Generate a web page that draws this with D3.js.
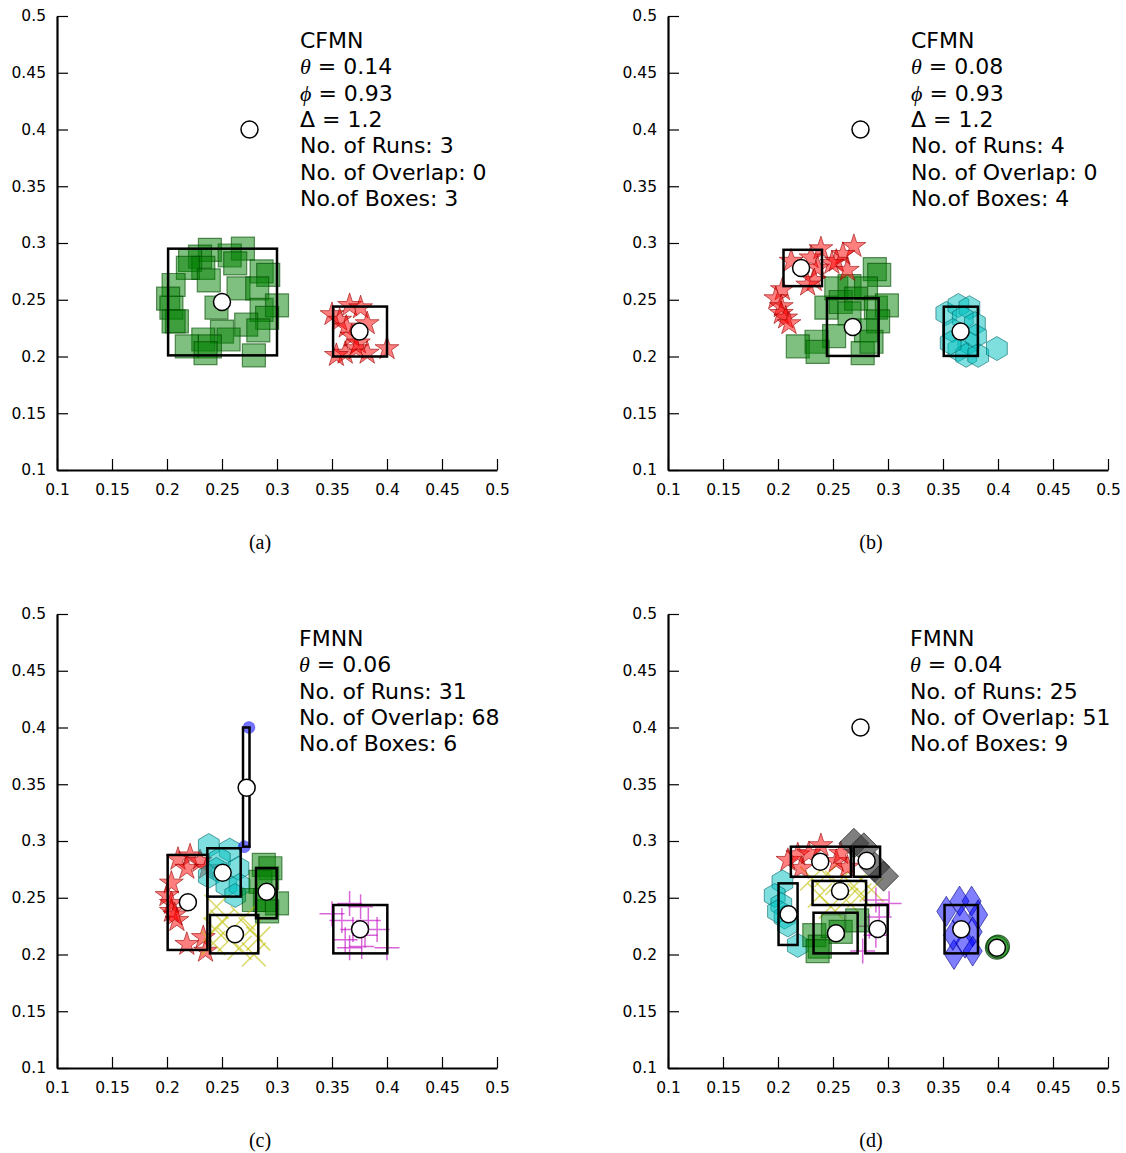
<!DOCTYPE html>
<html>
<head>
<meta charset="utf-8">
<script src="https://cdn.jsdelivr.net/npm/d3@7"></script>
<style>
  body { margin: 0; background: #fff; }
  svg { display: block; }
  .tick text { font-family: "DejaVu Sans", sans-serif; font-size: 15.5px; fill: #000; }
</style>
</head>
<body>
<svg id="fig" width="1126" height="1153"></svg>
<script>
// ---------- axis ticks ----------
const tickValues = [0.1, 0.15, 0.2, 0.25, 0.3, 0.35, 0.4, 0.45, 0.5];
const tickLabels = ["0.1", "0.15", "0.2", "0.25", "0.3", "0.35", "0.4", "0.45", "0.5"];

// ---------- panel (a): CFMN, theta = 0.14 ----------
const aSquares = [
  [0.239,0.294],[0.269,0.295],[0.257,0.289],[0.230,0.288],[0.221,0.285],[0.233,0.278],
  [0.219,0.278],[0.262,0.282],[0.286,0.275],[0.292,0.272],[0.238,0.267],[0.265,0.260],
  [0.282,0.260],[0.206,0.263],[0.201,0.251],[0.204,0.243],[0.209,0.231],[0.206,0.231],
  [0.245,0.243],[0.286,0.241],[0.300,0.245],[0.291,0.234],[0.272,0.228],[0.283,0.223],
  [0.250,0.222],[0.256,0.215],[0.233,0.215],[0.239,0.209],[0.218,0.209],[0.279,0.201],
  [0.235,0.203]
];
const aStars = [
  [0.350,0.237],[0.366,0.245],[0.376,0.243],[0.357,0.232],[0.363,0.226],[0.382,0.229],
  [0.368,0.218],[0.374,0.212],[0.362,0.203],[0.372,0.207],[0.382,0.203],[0.400,0.207],
  [0.354,0.201]
];
const aBoxes = [[0.201,0.300,0.201,0.295],[0.351,0.400,0.200,0.244]];
const aCentres = [[0.250,0.248],[0.375,0.222],[0.275,0.400]];

// ---------- panel (b): CFMN, theta = 0.08 ----------
const bStars = [
  [0.239,0.295],[0.269,0.297],[0.259,0.290],[0.253,0.284],[0.263,0.276],[0.249,0.282],
  [0.212,0.284],[0.230,0.287],[0.236,0.278],[0.233,0.267],[0.227,0.263],[0.204,0.259],
  [0.198,0.251],[0.203,0.244],[0.203,0.238],[0.207,0.234],[0.210,0.229]
];
const bSquares = [
  [0.288,0.277],[0.292,0.272],[0.253,0.260],[0.265,0.262],[0.280,0.260],[0.244,0.243],
  [0.257,0.248],[0.271,0.251],[0.289,0.243],[0.299,0.245],[0.291,0.231],[0.280,0.223],
  [0.251,0.218],[0.235,0.213],[0.218,0.209],[0.236,0.204],[0.277,0.203],[0.265,0.238],
  [0.285,0.213]
];
const bHexagons = [
  [0.353,0.238],[0.364,0.245],[0.374,0.243],[0.368,0.234],[0.379,0.229],[0.359,0.223],
  [0.380,0.218],[0.373,0.212],[0.364,0.206],[0.371,0.201],[0.382,0.201],[0.399,0.207],
  [0.357,0.212]
];
const bBoxes = [[0.205,0.240,0.262,0.294],[0.2445,0.2915,0.2005,0.2513],[0.3507,0.3817,0.2005,0.2439]];
const bCentres = [[0.221,0.278],[0.268,0.226],[0.366,0.222],[0.275,0.400]];

// ---------- panel (c): FMNN, theta = 0.06 ----------
const cStars = [
  [0.210,0.284],[0.221,0.287],[0.230,0.282],[0.218,0.276],[0.236,0.276],[0.204,0.263],
  [0.200,0.252],[0.204,0.245],[0.204,0.238],[0.209,0.230],[0.207,0.235],[0.218,0.209],
  [0.233,0.215],[0.235,0.203]
];
const cHexagons = [
  [0.238,0.296],[0.257,0.292],[0.248,0.284],[0.265,0.276],[0.238,0.269],[0.254,0.261],
  [0.266,0.261],[0.262,0.252],[0.245,0.275]
];
const cSquares = [
  [0.288,0.279],[0.294,0.276],[0.285,0.264],[0.291,0.267],[0.300,0.245],[0.289,0.248],
  [0.291,0.238],[0.279,0.248]
];
const cCrosses = [
  [0.245,0.242],[0.250,0.229],[0.269,0.232],[0.276,0.222],[0.283,0.214],[0.257,0.213],
  [0.266,0.206],[0.279,0.200],[0.242,0.210],[0.244,0.222]
];
const cPluses = [
  [0.350,0.236],[0.366,0.245],[0.376,0.242],[0.383,0.230],[0.369,0.222],[0.380,0.217],
  [0.362,0.213],[0.366,0.206],[0.377,0.207],[0.400,0.206],[0.391,0.222],[0.359,0.230]
];
const cDots = [[0.2745,0.400],[0.2703,0.295]];
const cBoxes = [
  [0.2691,0.2750,0.295,0.400],[0.2006,0.2367,0.204,0.2877],[0.2367,0.2670,0.251,0.2936],
  [0.2809,0.2997,0.2319,0.2760],[0.2391,0.2830,0.201,0.2348],[0.3512,0.4003,0.201,0.2436]
];
const cCentres = [[0.2724,0.347],[0.219,0.246],[0.2506,0.2721],[0.2906,0.2553],[0.2618,0.2178],[0.3755,0.2222]];

// ---------- panel (d): FMNN, theta = 0.04 ----------
const dStars = [
  [0.209,0.283],[0.218,0.288],[0.221,0.276],[0.228,0.289],[0.239,0.296],[0.253,0.282],
  [0.257,0.289],[0.263,0.277]
];
const dDiamonds = [[0.269,0.298],[0.278,0.294],[0.288,0.277],[0.296,0.269]];
const dHexagons = [
  [0.204,0.264],[0.197,0.252],[0.203,0.244],[0.206,0.233],[0.209,0.226],[0.218,0.208],
  [0.200,0.238]
];
const dCrosses = [
  [0.231,0.267],[0.244,0.270],[0.238,0.252],[0.254,0.263],[0.269,0.260],[0.274,0.252],
  [0.285,0.257],[0.248,0.242],[0.262,0.248]
];
const dPluses = [[0.289,0.248],[0.301,0.245],[0.292,0.233],[0.283,0.225],[0.289,0.217],[0.277,0.203]];
const dSquares = [[0.233,0.217],[0.238,0.207],[0.250,0.225],[0.257,0.220],[0.272,0.230],[0.236,0.203]];
const dThinDiamonds = [
  [0.353,0.238],[0.365,0.247],[0.376,0.247],[0.382,0.235],[0.367,0.230],[0.377,0.220],
  [0.370,0.210],[0.360,0.200],[0.377,0.203],[0.359,0.217]
];
const dCircles = [[0.399,0.206],[0.400,0.207]];
const dBoxes = [
  [0.2117,0.2663,0.2685,0.295],[0.2688,0.2928,0.2685,0.295],[0.2314,0.2801,0.2436,0.2648],
  [0.2005,0.2178,0.2084,0.2627],[0.2323,0.2724,0.201,0.2368],[0.2794,0.2997,0.201,0.2436],
  [0.3514,0.3818,0.201,0.2436]
];
const dCentres = [
  [0.2384,0.2818],[0.2806,0.2826],[0.2564,0.256],[0.2096,0.2354],[0.2527,0.2187],
  [0.2906,0.2225],[0.3666,0.2222],[0.399,0.206],[0.275,0.400]
];

// ---------- annotation text ----------
const aNotes = [["", "CFMN"], ["θ", " = 0.14"], ["ϕ", " = 0.93"], ["", "Δ = 1.2"], ["", "No. of Runs: 3"], ["", "No. of Overlap: 0"], ["", "No.of Boxes: 3"]];
const bNotes = [["", "CFMN"], ["θ", " = 0.08"], ["ϕ", " = 0.93"], ["", "Δ = 1.2"], ["", "No. of Runs: 4"], ["", "No. of Overlap: 0"], ["", "No.of Boxes: 4"]];
const cNotes = [["", "FMNN"], ["θ", " = 0.06"], ["", "No. of Runs: 31"], ["", "No. of Overlap: 68"], ["", "No.of Boxes: 6"]];
const dNotes = [["", "FMNN"], ["θ", " = 0.04"], ["", "No. of Runs: 25"], ["", "No. of Overlap: 51"], ["", "No.of Boxes: 9"]];

// ---------- marker shapes ----------
function starPath(r) {
  const ri = r * 0.382, p = [];
  for (let i = 0; i < 10; i++) {
    const a = -Math.PI / 2 + i * Math.PI / 5, rr = i % 2 ? ri : r;
    p.push([rr * Math.cos(a), rr * Math.sin(a)]);
  }
  return "M" + p.map(q => q.join(",")).join("L") + "Z";
}
function hexPath(r) {
  const p = [];
  for (let i = 0; i < 6; i++) {
    const a = -Math.PI / 2 + i * Math.PI / 3;
    p.push([r * Math.cos(a), r * Math.sin(a)]);
  }
  return "M" + p.map(q => q.join(",")).join("L") + "Z";
}
const squarePath = s => `M${-s/2},${-s/2}H${s/2}V${s/2}H${-s/2}Z`;
const diamondPath = (w, h) => `M0,${-h/2}L${w/2},0L0,${h/2}L${-w/2},0Z`;
const crossPath = s => `M${-s},${-s}L${s},${s}M${-s},${s}L${s},${-s}`;
const plusPath = s => `M${-s},0H${s}M0,${-s}V${s}`;
const circlePath = r => `M${r},0A${r},${r} 0 1,1 ${-r},0A${r},${r} 0 1,1 ${r},0Z`;

const styles = {
  square:   { d: squarePath(23), fill: "#008000", fo: 0.5, stroke: "#004d00", so: 0.6, sw: 1.2 },
  star:     { d: starPath(12.5), fill: "#ff0000", fo: 0.5, stroke: "#990000", so: 0.6, sw: 1 },
  hexagon:  { d: hexPath(12), fill: "#00bfbf", fo: 0.5, stroke: "#006666", so: 0.6, sw: 1 },
  diamond:  { d: diamondPath(30, 30), fill: "#3a3a3a", fo: 0.65, stroke: "#111", so: 0.6, sw: 1 },
  thin:     { d: diamondPath(19, 30), fill: "#0000ff", fo: 0.5, stroke: "#000080", so: 0.6, sw: 1 },
  cross:    { d: crossPath(12), fill: "none", fo: 0, stroke: "#bfbf00", so: 0.6, sw: 1.5 },
  plus:     { d: plusPath(12.5), fill: "none", fo: 0, stroke: "#bf00bf", so: 0.6, sw: 1.5 },
  gcircle:  { d: circlePath(11.5), fill: "#008000", fo: 0.5, stroke: "#003300", so: 0.7, sw: 1.2 },
  dot:      { d: circlePath(6), fill: "#0000ff", fo: 0.55, stroke: "#0000ff", so: 0.3, sw: 1 }
};

const panels = [
  { left: 57,  top: 16,  caption: "(a)", notes: aNotes, noteX: 300,
    series: [["square", aSquares], ["star", aStars]], boxes: aBoxes, centres: aCentres },
  { left: 668, top: 16,  caption: "(b)", notes: bNotes, noteX: 911,
    series: [["square", bSquares], ["star", bStars], ["hexagon", bHexagons]], boxes: bBoxes, centres: bCentres },
  { left: 57,  top: 614, caption: "(c)", notes: cNotes, noteX: 299,
    series: [["star", cStars], ["hexagon", cHexagons], ["square", cSquares], ["cross", cCrosses], ["plus", cPluses], ["dot", cDots]],
    boxes: cBoxes, centres: cCentres },
  { left: 668, top: 614, caption: "(d)", notes: dNotes, noteX: 910,
    series: [["cross", dCrosses], ["plus", dPluses], ["hexagon", dHexagons], ["square", dSquares], ["star", dStars],
             ["diamond", dDiamonds], ["thin", dThinDiamonds], ["gcircle", dCircles]],
    boxes: dBoxes, centres: dCentres }
];

const W = 440, H = 454;
const svg = d3.select("#fig");

panels.forEach(p => {
  const g = svg.append("g").attr("transform", `translate(${p.left},${p.top})`);
  const x = d3.scaleLinear().domain([0.1, 0.5]).range([0, W]);
  const y = d3.scaleLinear().domain([0.1, 0.5]).range([H, 0]);

  // markers
  p.series.forEach(([kind, pts]) => {
    const s = styles[kind];
    g.append("g").selectAll("path").data(pts).join("path")
      .attr("transform", d => `translate(${x(d[0])},${y(d[1])})`)
      .attr("d", s.d)
      .attr("fill", s.fill).attr("fill-opacity", s.fo)
      .attr("stroke", s.stroke).attr("stroke-opacity", s.so).attr("stroke-width", s.sw);
  });

  // hyperbox outlines
  g.append("g").selectAll("rect").data(p.boxes).join("rect")
    .attr("x", d => x(d[0])).attr("y", d => y(d[3]))
    .attr("width", d => x(d[1]) - x(d[0])).attr("height", d => y(d[2]) - y(d[3]))
    .attr("fill", "none").attr("stroke", "#000").attr("stroke-width", 2.5);

  // box centres
  g.append("g").selectAll("circle").data(p.centres).join("circle")
    .attr("cx", d => x(d[0])).attr("cy", d => y(d[1])).attr("r", 8.5)
    .attr("fill", "#fff").attr("stroke", "#000").attr("stroke-width", 1.5);

  // axes: left and bottom spines, ticks pointing inward
  const ax = g.append("g").attr("transform", `translate(0,${H})`)
    .call(d3.axisBottom(x).tickValues(tickValues).tickFormat((d, i) => tickLabels[i])
      .tickSizeInner(-11).tickSizeOuter(0).tickPadding(14));
  const ay = g.append("g")
    .call(d3.axisLeft(y).tickValues(tickValues).tickFormat((d, i) => tickLabels[i])
      .tickSizeInner(-11).tickSizeOuter(0).tickPadding(11));
  [ax, ay].forEach(a => {
    a.select(".domain").attr("stroke", "#000").attr("stroke-width", 2.2);
    a.selectAll(".tick line").attr("stroke", "#000").attr("stroke-width", 1.2);
  });

  // annotation block
  const t = svg.append("text")
    .attr("font-family", "DejaVu Sans, sans-serif").attr("font-size", 22).attr("fill", "#000");
  p.notes.forEach((n, i) => {
    const line = t.append("tspan").attr("x", p.noteX).attr("y", p.top + 32 + i * 26.3);
    if (n[0]) {
      line.append("tspan").attr("font-family", "Liberation Serif, serif")
        .attr("font-style", "italic").text(n[0]);
    }
    line.append("tspan").text(n[1]);
  });

  // caption
  svg.append("text").attr("x", p.left + 203).attr("y", p.top + 533)
    .attr("text-anchor", "middle")
    .attr("font-family", "Liberation Serif, Times New Roman, serif").attr("font-size", 20)
    .text(p.caption);
});
</script>
</body>
</html>
